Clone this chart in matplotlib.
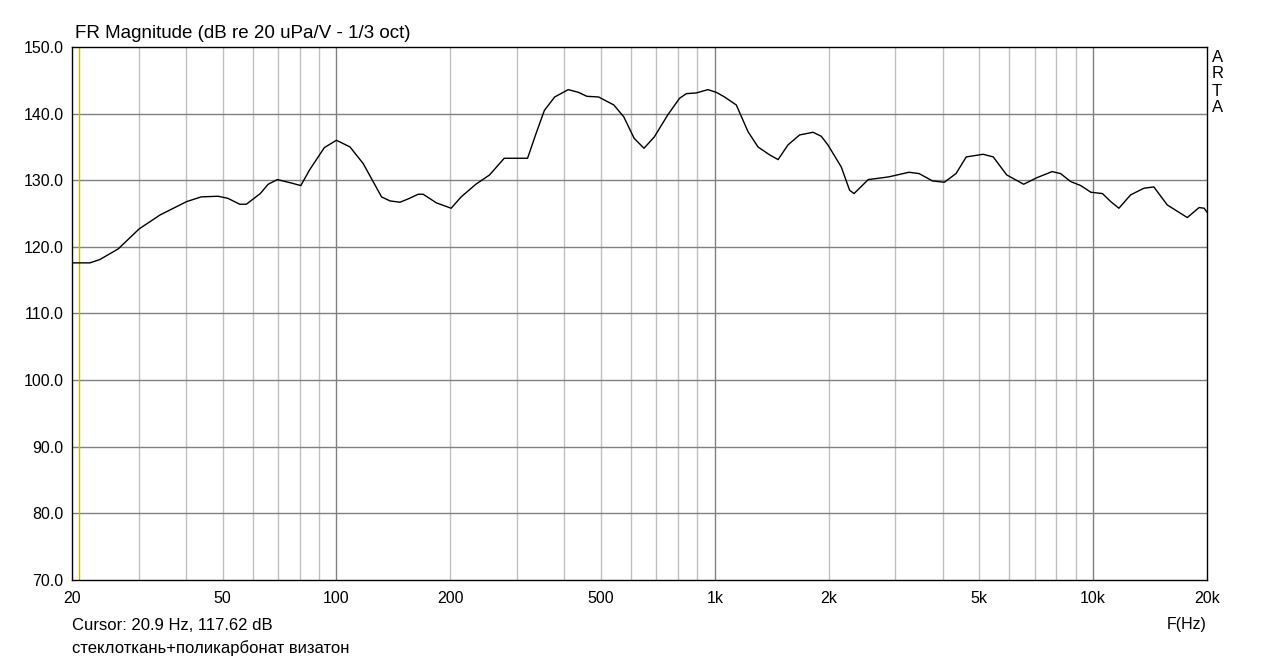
import numpy as np
import matplotlib
matplotlib.use("Agg")
import matplotlib.pyplot as plt
from matplotlib.ticker import FixedLocator, NullFormatter

plt.rcParams['font.family'] = ['Liberation Sans', 'DejaVu Sans']

# ── data (1/3 oct smoothed) ────────────────────────────────────────────────
freq = [20, 21, 22.3, 23.7, 26.5, 30.1, 34.2, 40.2, 43.9, 48.6, 51.6, 55.5, 57.8,
        62.9, 66, 69.8, 75.8, 80.5, 84.8, 92.9, 100, 108.6, 117.7, 131.6, 138.5,
        147.2, 154.8, 164.5, 169.5, 183.8, 201, 213.6, 233.6, 254, 277.6, 320,
        336.9, 354.6, 377.5, 409.8, 436, 459, 493, 541, 575, 612, 650, 692, 751,
        807, 841, 893, 959, 1009, 1061, 1140, 1224, 1301, 1397, 1470, 1561, 1676,
        1819, 1912, 1991, 2159, 2272, 2334, 2545, 2880, 3260, 3468, 3762, 4043,
        4342, 4620, 5121, 5446, 5910, 6553, 7112, 7795, 8205, 8723, 9276, 9864,
        10585, 11130, 11700, 12560, 13620, 14470, 15700, 17740, 19060, 19660, 20000]
mag = [117.6, 117.6, 117.6, 118.1, 119.7, 122.7, 124.8, 126.8, 127.5, 127.6,
       127.3, 126.4, 126.4, 128.0, 129.4, 130.1, 129.6, 129.2, 131.5, 134.9, 136.0,
       135.0, 132.5, 127.5, 126.9, 126.7, 127.2, 127.9, 127.9, 126.6, 125.8,
       127.5, 129.4, 130.8, 133.3, 133.3, 137.0, 140.5, 142.5, 143.6, 143.2,
       142.6, 142.5, 141.3, 139.5, 136.3, 134.8, 136.5, 139.8, 142.3, 143.0,
       143.1, 143.6, 143.2, 142.5, 141.3, 137.3, 135.0, 133.8, 133.1, 135.3,
       136.8, 137.2, 136.6, 135.3, 132.0, 128.5, 128.0, 130.1, 130.5, 131.2,
       131.0, 129.9, 129.7, 131.0, 133.5, 133.9, 133.5, 130.8, 129.4, 130.4,
       131.3, 131.0, 129.8, 129.2, 128.2, 128.0, 126.8, 125.8, 127.8, 128.8,
       129.0, 126.3, 124.4, 125.9, 125.8, 125.2]

x_ticks = [20, 50, 100, 200, 500, 1000, 2000, 5000, 10000, 20000]
x_labels = ["20", "50", "100", "200", "500", "1k", "2k", "5k", "10k", "20k"]
y_ticks = [70, 80, 90, 100, 110, 120, 130, 140, 150]
cursor_f = 20.9

# ── plot ───────────────────────────────────────────────────────────────────
fig = plt.figure(figsize=(12.79, 6.61), dpi=100)
ax = fig.add_axes([72 / 1279, 1 - 580 / 661, 1135 / 1279, 533 / 661])

ax.set_xscale("log")
ax.set_xlim(20, 20000)
ax.set_ylim(70, 150)

# grid: light minor verticals, darker decades and horizontals
minors = [m * d for d in (10, 100, 1000, 10000) for m in range(2, 10)
          if 20 < m * d < 20000 and m * d not in (100, 1000, 10000)]
for f in minors:
    ax.axvline(f, color="#c0c0c0", lw=1, zorder=1)
for f in (100, 1000, 10000):
    ax.axvline(f, color="#808080", lw=1, zorder=1)
for v in y_ticks[1:-1]:
    ax.axhline(v, color="#808080", lw=1, zorder=1)

ax.axvline(cursor_f, color="#c0c000", lw=1, zorder=2)
ax.plot(freq, mag, color="black", lw=1, zorder=3)

ax.xaxis.set_major_locator(FixedLocator(x_ticks))
ax.xaxis.set_minor_locator(FixedLocator([]))
ax.xaxis.set_minor_formatter(NullFormatter())
ax.set_xticks(x_ticks)
ax.set_xticklabels(x_labels)
ax.set_yticks(y_ticks)
ax.set_yticklabels([f"{v:.1f}" for v in y_ticks])
ax.tick_params(length=0, labelsize=11.5, pad=6, colors="black")
ax.tick_params(axis="x", pad=8)
for s in ax.spines.values():
    s.set_color("black")
    s.set_linewidth(1)

fig.text(75 / 1279, 1 - 33 / 661, "FR Magnitude (dB re 20 uPa/V - 1/3 oct)",
         fontsize=13.5, va="center", ha="left")
for i, ch in enumerate("ARTA"):
    fig.text(1212 / 1279, 1 - (57 + i * 17) / 661, ch, fontsize=12,
             va="center", ha="left")
fig.text(72 / 1279, 1 - 625 / 661, "Cursor: 20.9 Hz, 117.62 dB",
         fontsize=12, va="center", ha="left")
fig.text(1207 / 1279, 1 - 625 / 661, "F(Hz)", fontsize=11.5, va="center", ha="right")
fig.text(72 / 1279, 1 - 648 / 661, "стеклоткань+поликарбонат визатон",
         fontsize=12, va="center", ha="left")

plt.savefig("out.png", dpi=100)
